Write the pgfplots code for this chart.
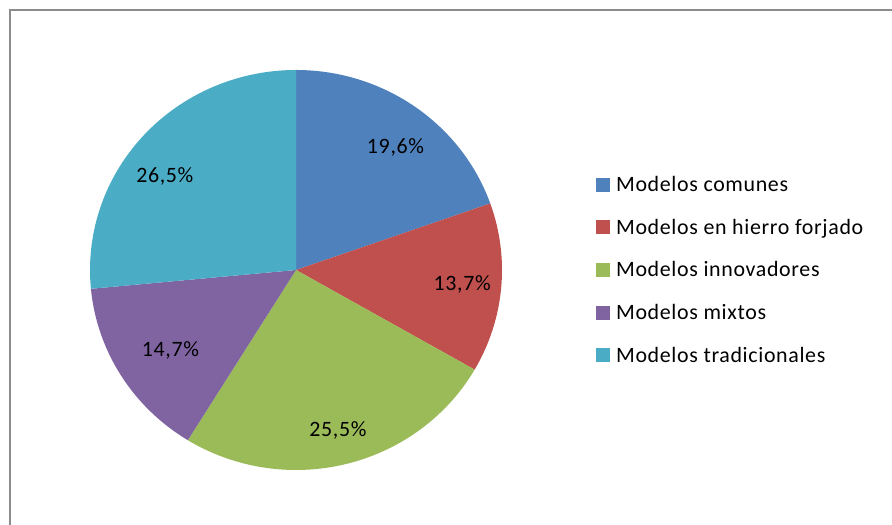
\documentclass[border=0pt]{standalone}
\usepackage{pgfplots}
\pgfplotsset{compat=1.18}
\usepackage{pgfplotstable}
\usepackage{fontspec}
\setmainfont{Carlito}
\newfontfamily\chartfont[LetterSpace=3]{Carlito}

\definecolor{s0}{HTML}{4F81BD}
\definecolor{s1}{HTML}{C0504D}
\definecolor{s2}{HTML}{9BBB59}
\definecolor{s3}{HTML}{8064A2}
\definecolor{s4}{HTML}{4BACC6}
\definecolor{frame}{HTML}{8C8C8C}

% share of each model type, in percent (clockwise from 12 o'clock)
% lr/la: label radius (fraction) and angle shift, as Excel placed them
\pgfplotstableread{
label value lr la
{Modelos comunes} 19.6 0.78 -3
{Modelos en hierro forjado} 13.7 0.81 0
{Modelos innovadores} 25.5 0.83 0
{Modelos mixtos} 14.7 0.73 1.5
{Modelos tradicionales} 26.5 0.79 6
}\pietable

\begin{document}
\begin{tikzpicture}[x=1bp,y=1bp]
\useasboundingbox (0,0) rectangle (892,525);
\draw[frame, line width=2bp] (9.5,0) -- (9.5,514.5) -- (892,514.5);
\begin{axis}[
    at={(90bp,55bp)}, anchor=south west,
    scale only axis, width=412bp, height=400bp,
    xmin=-1, xmax=1, ymin=-1, ymax=1,
    hide axis, clip=false,
    /pgf/number format/assume math mode=true,
    legend image code/.code={\fill[#1] (0bp,-7bp) rectangle (14bp,7bp);},
    legend style={draw=none, fill=none, inner sep=0pt,
        at={(axis cs:1.456,0)}, anchor=west,
        font=\chartfont\fontsize{22}{26}\selectfont, row sep=22bp,
        /tikz/every odd column/.style={column sep=4bp}},
    legend cell align=left,
]
\def\angstart{90}
\pgfplotsforeachungrouped \i in {0,...,4}{
    \pgfplotstablegetelem{\i}{value}\of\pietable
    \let\val\pgfplotsretval
    \pgfplotstablegetelem{\i}{lr}\of\pietable
    \let\lr\pgfplotsretval
    \pgfplotstablegetelem{\i}{la}\of\pietable
    \let\la\pgfplotsretval
    \pgfmathsetmacro\angend{\angstart-3.6*\val}
    \pgfmathsetmacro\angmid{(\angstart+\angend)/2+\la}
    \edef\tmp{%
        \noexpand\fill[s\i] (axis cs:0,0) -- ++(\angstart:206bp and 200bp)
            arc[start angle=\angstart, end angle=\angend, x radius=206bp, y radius=200bp] -- cycle;
        \noexpand\node[font=\noexpand\chartfont\noexpand\fontsize{22}{26}\noexpand\selectfont]
            at (axis cs:{\lr*cos(\angmid)},{\lr*sin(\angmid)})
            {\noexpand\pgfmathprintnumber[use comma,fixed,precision=1,fixed zerofill,assume math mode=true]{\val}\noexpand\%};
    }
    \tmp
    \let\angstart\angend
}
\pgfplotsforeachungrouped \i in {0,...,4}{
    \pgfplotstablegetelem{\i}{label}\of\pietable
    \let\lab\pgfplotsretval
    \edef\tmp{\noexpand\addlegendimage{fill=s\i, draw=none}
        \noexpand\addlegendentry{\lab}}
    \tmp
}
\end{axis}
\end{tikzpicture}
\end{document}
